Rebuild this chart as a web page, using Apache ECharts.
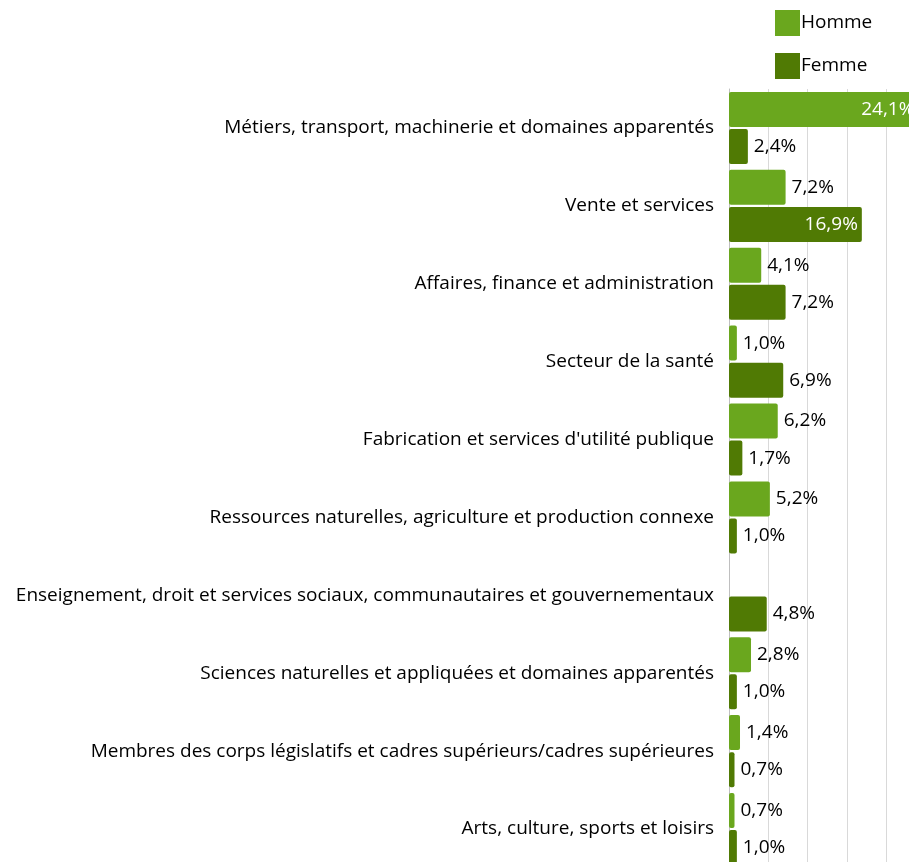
<!DOCTYPE html>
<html>
<head>
<meta charset="utf-8">
<script src="https://cdn.jsdelivr.net/npm/echarts@6/dist/echarts.min.js"></script>
<style>
  html, body { margin: 0; padding: 0; background: #fff; }
  #chart { width: 909px; height: 862px; }
</style>
</head>
<body>
<div id="chart"></div>
<script>
const categories = [
  "Métiers, transport, machinerie et domaines apparentés",
  "Vente et services",
  "Affaires, finance et administration",
  "Secteur de la santé",
  "Fabrication et services d'utilité publique",
  "Ressources naturelles, agriculture et production connexe",
  "Enseignement, droit et services sociaux, communautaires et gouvernementaux",
  "Sciences naturelles et appliquées et domaines apparentés",
  "Membres des corps législatifs et cadres supérieurs/cadres supérieures",
  "Arts, culture, sports et loisirs"
];
const homme = [24.1, 7.2, 4.1, 1.0, 6.2, 5.2, null, 2.8, 1.4, 0.7];
const femme = [2.4, 16.9, 7.2, 6.9, 1.7, 1.0, 4.8, 1.0, 0.7, 1.0];

const FONT = "'Open Sans', 'Noto Sans', sans-serif";

function fmt(v) {
  return v.toFixed(1).replace(".", ",") + "%";
}

// big bars get the label inside, in white
function withLabels(arr) {
  return arr.map(function (v) {
    if (v == null) return null;
    if (v > 10) {
      return {
        value: v,
        label: { position: "insideRight", color: "#fff", distance: 4 }
      };
    }
    return v;
  });
}

const chart = echarts.init(document.getElementById("chart"));
const option = {
  animation: false,
  textStyle: { fontFamily: FONT },
  legend: {
    orient: "vertical",
    left: 770,
    top: 5,
    itemWidth: 25,
    itemHeight: 26,
    itemGap: 17,
    icon: "rect",
    textStyle: { fontSize: 19, color: "#000", fontFamily: FONT, padding: [0, 0, 0, -4] },
    data: ["Homme", "Femme"]
  },
  grid: {
    left: 729,
    top: 89,
    width: 196.5,
    height: 779,
    outerBoundsMode: "none",
    containLabel: false
  },
  xAxis: {
    type: "value",
    min: 0,
    max: 25,
    interval: 5,
    axisLabel: { show: false },
    axisLine: { show: false },
    axisTick: { show: false },
    splitLine: { show: true, lineStyle: { color: "#d9d9d9", width: 1 } }
  },
  yAxis: {
    type: "category",
    inverse: true,
    data: categories,
    axisTick: { show: false },
    axisLine: { show: true, lineStyle: { color: "#bfbfbf", width: 1 } },
    axisLabel: { fontSize: 19, color: "#000", margin: 15, fontFamily: FONT }
  },
  series: [
    {
      name: "Homme",
      type: "bar",
      data: withLabels(homme),
      barWidth: 35,
      barGap: "6%",
      itemStyle: { color: "#6AA71E", borderRadius: 2 },
      label: {
        show: true,
        position: "right",
        distance: 6,
        fontSize: 19,
        color: "#000",
        fontFamily: FONT,
        formatter: function (p) { return fmt(p.value); }
      }
    },
    {
      name: "Femme",
      type: "bar",
      data: withLabels(femme),
      barWidth: 35,
      itemStyle: { color: "#507A04", borderRadius: 2 },
      label: {
        show: true,
        position: "right",
        distance: 6,
        fontSize: 19,
        color: "#000",
        fontFamily: FONT,
        formatter: function (p) { return fmt(p.value); }
      }
    }
  ]
};
chart.setOption(option);
</script>
</body>
</html>
